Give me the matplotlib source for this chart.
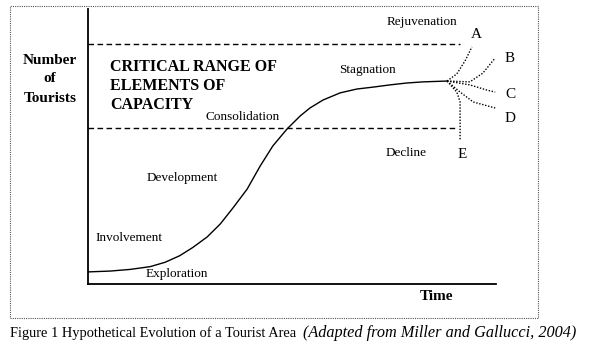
import matplotlib
matplotlib.use("Agg")
import matplotlib.pyplot as plt
from matplotlib.patches import Rectangle

# --- data (time, number of tourists), axes span 0..100 both ways ---
curve_time = [0, 5.4, 10.3, 15.2, 18.9, 22.5, 25.7, 29.2, 32.4, 35.5, 39.0, 42.2,
              45.3, 48.8, 52.0, 54.4, 57.6, 61.8, 65.9, 69.9, 74.0, 78.2, 82.1, 88.0]
curve_tourists = [4.4, 4.7, 5.3, 6.3, 7.9, 10.3, 13.3, 17.1, 21.8, 27.6, 34.5, 42.9,
                  50.2, 56.4, 61.1, 64.0, 66.9, 69.5, 70.9, 71.6, 72.4, 73.1, 73.5, 73.8]

capacity_upper = 87.3
capacity_lower = 56.7
capacity_end = 91.2

branch_names = ["A", "B", "C", "D", "E"]
branch_time = {
    "A": [88.0, 90.4, 92.4, 94.1],
    "B": [88.0, 93.6, 96.8, 99.8],
    "C": [88.0, 93.6, 97.8, 99.8],
    "D": [88.0, 91.2, 94.4, 99.8],
    "E": [88.0, 90.4, 91.2, 91.2],
}
branch_tourists = {
    "A": [73.8, 76.4, 81.1, 86.2],
    "B": [73.8, 73.5, 76.7, 82.2],
    "C": [73.8, 72.4, 70.5, 69.8],
    "D": [73.8, 69.8, 66.2, 64.0],
    "E": [73.8, 69.8, 66.2, 52.4],
}

W, H = 590, 342
fig = plt.figure(figsize=(W / 100, H / 100), dpi=100)
fig.patch.set_facecolor("white")

def fx(px):
    return px / W

def fy(py):
    return 1 - py / H

ax_l, ax_r, ax_t, ax_b = 88, 496, 9, 284
ax = fig.add_axes([fx(ax_l), fy(ax_b), (ax_r - ax_l) / W, (ax_b - ax_t) / H])
ax.set_xlim(0, 100)
ax.set_ylim(0, 100)
ax.set_xticks([])
ax.set_yticks([])
for s in ["top", "right"]:
    ax.spines[s].set_visible(False)
ax.spines["left"].set_linewidth(1.3)
ax.spines["bottom"].set_linewidth(1.3)
ax.patch.set_alpha(0)

ax.plot(curve_time, curve_tourists, color="black", lw=1.0, solid_joinstyle="round")
ax.plot([0, capacity_end], [capacity_upper, capacity_upper], color="black", lw=1.0,
        linestyle=(0, (4, 2.5)))
ax.plot([0, capacity_end - 0.7], [capacity_lower, capacity_lower], color="black", lw=1.0,
        linestyle=(0, (4, 2.5)))
for n in branch_names:
    ax.plot(branch_time[n], branch_tourists[n], color="black", lw=1.0,
            linestyle=(0, (1, 1.2)), clip_on=False)

serif = "Liberation Serif"

def t(px, py, s, size=9.5, weight="normal", style="normal", ha="center", va="center"):
    fig.text(fx(px), fy(py), s, fontsize=size, fontweight=weight, fontstyle=style,
             ha=ha, va=va, family=serif)

# dotted frame
fig.patches.append(Rectangle((fx(10), fy(318)), fx(538) - fx(10), fy(6) - fy(318),
                             transform=fig.transFigure, fill=False, edgecolor="#555555",
                             lw=0.8, linestyle=(0, (1, 1))))

t(50, 60, "Number", 11, "bold")
t(50, 79, "of", 11, "bold")
t(50, 99, "Tourists", 11, "bold")

t(110, 67, "CRITICAL RANGE OF", 11.5, "bold", ha="left")
t(110, 86, "ELEMENTS OF", 11.5, "bold", ha="left")
t(110, 105, "CAPACITY", 11.5, "bold", ha="left")

t(243, 117, "Consolidation")
t(367, 70, "Stagnation")
t(422, 22, "Rejuvenation")
t(406, 153, "Decline")
t(182, 178, "Development")
t(129, 238, "Involvement")
t(177, 274, "Exploration")
t(437, 297, "Time", 11, "bold")

t(476, 35, "A", 11)
t(510, 59, "B", 11)
t(510, 95, "C", 11)
t(510, 118, "D", 11)
t(462, 155, "E", 11)

t(10, 333, "Figure 1 Hypothetical Evolution of a Tourist Area", 10.4, ha="left")
fig.text(fx(576), fy(333), "(Adapted from Miller and Gallucci, 2004)", fontsize=11.7,
         fontstyle="italic", ha="right", va="center", family=serif)

fig.savefig("out.png", dpi=100)
